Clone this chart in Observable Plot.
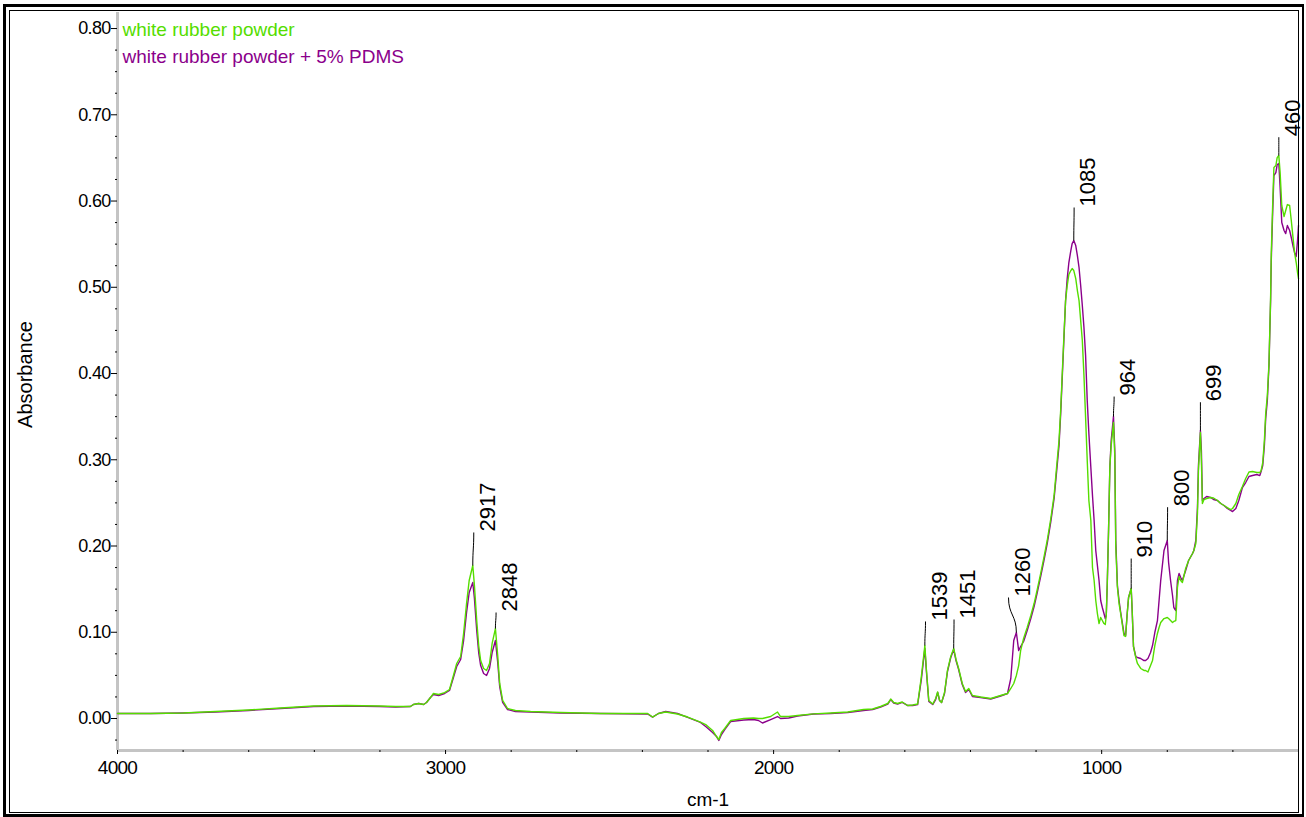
<!DOCTYPE html>
<html>
<head>
<meta charset="utf-8">
<script src="https://cdn.jsdelivr.net/npm/d3@7"></script>
<script src="https://cdn.jsdelivr.net/npm/@observablehq/plot@0.6"></script>
<style>
  html, body { margin: 0; padding: 0; background: #fff; overflow: hidden; }
  #chart { position: relative; width: 1306px; height: 817px; overflow: hidden; }
  #chart svg { position: absolute; left: 0; top: 0; }
  .frame-outer { position: absolute; left: 3px; top: 4px; width: 1301px; height: 813px; box-sizing: border-box;
                 border: 3px solid #000; border-right-width: 2px; pointer-events: none; }
  .frame-inner { position: absolute; left: 9px; top: 10px; width: 1290px; height: 803px; box-sizing: border-box;
                 border: 1px solid #000; pointer-events: none; }
  g[aria-label="y-axis tick label"], g[aria-label="x-axis tick label"] { letter-spacing: -0.7px; }
  g[aria-label="peak label"] { letter-spacing: -0.6px; }
</style>
</head>
<body>
<div id="chart">
  <div class="frame-outer"></div>
  <div class="frame-inner"></div>
</div>
<script>
// FTIR absorbance spectra, wavenumber in cm-1 (descending)
const wavenumber = [
  4000, 3899, 3799, 3701, 3601, 3503, 3402, 3302, 3201, 3152, 3107, 3098, 3082, 3067, 3058, 3046, 3037, 3021, 3003, 2988,
  2976, 2966, 2954, 2945, 2936, 2928, 2917, 2912, 2905, 2899, 2893, 2884, 2875, 2866, 2858, 2848, 2841, 2835, 2826, 2811,
  2787, 2741, 2649, 2527, 2384, 2369, 2351, 2329, 2293, 2262, 2223, 2207, 2186, 2174, 2167, 2159, 2149, 2131, 2091, 2061,
  2046, 2034, 2009, 1988, 1979, 1954, 1927, 1878, 1826, 1774, 1726, 1698, 1674, 1652, 1643, 1634, 1622, 1608, 1592, 1576,
  1561, 1550, 1539, 1534, 1527, 1515, 1506, 1500, 1494, 1488, 1479, 1470, 1460, 1451, 1444, 1436, 1425, 1415, 1405, 1394,
  1369, 1338, 1308, 1287, 1277, 1268, 1260, 1253, 1247, 1238, 1227, 1216, 1206, 1197, 1186, 1176, 1166, 1155, 1145, 1137,
  1130, 1125, 1120, 1115, 1110, 1105, 1100, 1094, 1090, 1085, 1079, 1074, 1069, 1064, 1059, 1054, 1049, 1044, 1039, 1033,
  1028, 1023, 1018, 1013, 1008, 1003, 998, 993, 989, 986, 983, 979, 975, 971, 964, 960, 957, 952, 947, 942,
  932, 927, 922, 918, 910, 907, 903, 896, 891, 881, 871, 866, 859, 851, 845, 838, 830, 825, 820, 815,
  810, 800, 796, 790, 784, 780, 774, 769, 764, 759, 754, 744, 735, 723, 719, 713, 708, 705, 699, 696,
  693, 688, 680, 668, 659, 647, 637, 627, 617, 607, 601, 591, 582, 571, 561, 551, 540, 527, 518, 514,
  509, 504, 500, 495, 490, 485, 483, 479, 475, 469, 465, 460, 456, 451, 444, 439, 434, 427, 422, 417,
  412, 407, 403, 400
];

// white rubber powder
const whiteRubber = [
  0.0058, 0.0058, 0.0064, 0.0081, 0.0099, 0.0122, 0.0145, 0.0151, 0.0145, 0.0139, 0.0139, 0.0162, 0.0174, 0.0162, 0.0186, 0.0243, 0.0290, 0.0278, 0.0301, 0.0336,
  0.0499, 0.0638, 0.0719, 0.0986, 0.1333, 0.1600, 0.1774, 0.1542, 0.1136, 0.0846, 0.0672, 0.0580, 0.0557, 0.0638, 0.0870, 0.1043, 0.0730, 0.0406, 0.0209, 0.0116,
  0.0093, 0.0081, 0.0070, 0.0058, 0.0058, 0.0017, 0.0058, 0.0075, 0.0052, 0.0017, -0.0041, -0.0070, -0.0139, -0.0209, -0.0243, -0.0162, -0.0116, -0.0023, 0.0000, 0.0006,
  0.0000, 0.0000, 0.0023, 0.0075, 0.0023, 0.0023, 0.0035, 0.0054, 0.0064, 0.0075, 0.0104, 0.0110, 0.0139, 0.0174, 0.0226, 0.0186, 0.0174, 0.0191, 0.0151, 0.0157,
  0.0168, 0.0475, 0.0846, 0.0557, 0.0209, 0.0168, 0.0232, 0.0307, 0.0209, 0.0186, 0.0301, 0.0557, 0.0719, 0.0812, 0.0684, 0.0580, 0.0406, 0.0313, 0.0348, 0.0267,
  0.0249, 0.0232, 0.0267, 0.0290, 0.0348, 0.0406, 0.0499, 0.0614, 0.0788, 0.0928, 0.1055, 0.1194, 0.1333, 0.1484, 0.1681, 0.1867, 0.2064, 0.2319, 0.2586, 0.2933,
  0.3223, 0.3571, 0.4012, 0.4441, 0.4846, 0.5020, 0.5148, 0.5194, 0.5217, 0.5194, 0.5101, 0.4962, 0.4846, 0.4614, 0.4383, 0.3977, 0.3490, 0.2991, 0.2528, 0.2296,
  0.1751, 0.1600, 0.1368, 0.1217, 0.1101, 0.1171, 0.1136, 0.1101, 0.1090, 0.1194, 0.1565, 0.2180, 0.2922, 0.3165, 0.3432, 0.3049, 0.1994, 0.1519, 0.1333, 0.1217,
  0.0962, 0.0951, 0.1217, 0.1403, 0.1507, 0.1252, 0.0835, 0.0707, 0.0638, 0.0580, 0.0557, 0.0557, 0.0539, 0.0614, 0.0672, 0.0846, 0.0986, 0.1055, 0.1113, 0.1136,
  0.1159, 0.1171, 0.1159, 0.1136, 0.1113, 0.1125, 0.1136, 0.1519, 0.1646, 0.1600, 0.1577, 0.1739, 0.1832, 0.1913, 0.1948, 0.2029, 0.2377, 0.2875, 0.3316, 0.2991,
  0.2493, 0.2539, 0.2551, 0.2562, 0.2557, 0.2528, 0.2493, 0.2470, 0.2446, 0.2423, 0.2435, 0.2493, 0.2597, 0.2690, 0.2783, 0.2858, 0.2864, 0.2852, 0.2852, 0.2875,
  0.2968, 0.3223, 0.3536, 0.3745, 0.4116, 0.4881, 0.5391, 0.5925, 0.6388, 0.6412, 0.6504, 0.6528, 0.6330, 0.5948, 0.5820, 0.5890, 0.5959, 0.5948, 0.5774, 0.5588,
  0.5403, 0.5287, 0.5171, 0.5101
];

// white rubber powder + 5% PDMS
const withPDMS = [
  0.0058, 0.0058, 0.0064, 0.0075, 0.0093, 0.0116, 0.0139, 0.0145, 0.0139, 0.0133, 0.0139, 0.0162, 0.0174, 0.0162, 0.0186, 0.0243, 0.0278, 0.0267, 0.0290, 0.0325,
  0.0475, 0.0603, 0.0684, 0.0904, 0.1229, 0.1461, 0.1577, 0.1391, 0.1020, 0.0765, 0.0614, 0.0522, 0.0499, 0.0580, 0.0765, 0.0904, 0.0649, 0.0371, 0.0186, 0.0104,
  0.0081, 0.0075, 0.0064, 0.0058, 0.0052, 0.0017, 0.0058, 0.0081, 0.0058, 0.0012, -0.0046, -0.0093, -0.0162, -0.0209, -0.0255, -0.0186, -0.0128, -0.0035, -0.0017, -0.0012,
  -0.0023, -0.0052, -0.0012, 0.0023, 0.0000, 0.0006, 0.0029, 0.0052, 0.0058, 0.0070, 0.0093, 0.0104, 0.0133, 0.0168, 0.0220, 0.0180, 0.0168, 0.0186, 0.0151, 0.0151,
  0.0162, 0.0441, 0.0812, 0.0533, 0.0197, 0.0162, 0.0220, 0.0301, 0.0209, 0.0186, 0.0290, 0.0545, 0.0707, 0.0800, 0.0672, 0.0568, 0.0394, 0.0301, 0.0336, 0.0255,
  0.0243, 0.0226, 0.0261, 0.0290, 0.0464, 0.0904, 0.0997, 0.0788, 0.0835, 0.0893, 0.1020, 0.1159, 0.1299, 0.1449, 0.1646, 0.1832, 0.2029, 0.2284, 0.2551, 0.2875,
  0.3165, 0.3525, 0.3965, 0.4406, 0.4846, 0.5101, 0.5287, 0.5426, 0.5507, 0.5542, 0.5484, 0.5368, 0.5229, 0.5020, 0.4788, 0.4533, 0.4209, 0.3687, 0.3304, 0.2910,
  0.2586, 0.2296, 0.1948, 0.1774, 0.1600, 0.1368, 0.1287, 0.1217, 0.1159, 0.1194, 0.1542, 0.2180, 0.2922, 0.3223, 0.3501, 0.3107, 0.2064, 0.1542, 0.1368, 0.1229,
  0.0986, 0.0962, 0.1229, 0.1403, 0.1507, 0.1252, 0.0835, 0.0719, 0.0707, 0.0696, 0.0672, 0.0672, 0.0696, 0.0765, 0.0846, 0.0997, 0.1136, 0.1368, 0.1600, 0.1774,
  0.1948, 0.2064, 0.1809, 0.1600, 0.1426, 0.1287, 0.1252, 0.1600, 0.1681, 0.1635, 0.1600, 0.1716, 0.1832, 0.1913, 0.1948, 0.2064, 0.2446, 0.2933, 0.3339, 0.3107,
  0.2528, 0.2551, 0.2574, 0.2562, 0.2539, 0.2528, 0.2493, 0.2470, 0.2435, 0.2412, 0.2400, 0.2435, 0.2528, 0.2678, 0.2736, 0.2806, 0.2817, 0.2829, 0.2817, 0.2864,
  0.2933, 0.3165, 0.3478, 0.3687, 0.4093, 0.4846, 0.5310, 0.5832, 0.6296, 0.6330, 0.6423, 0.6435, 0.6157, 0.5751, 0.5658, 0.5623, 0.5716, 0.5658, 0.5577, 0.5484,
  0.5403, 0.5357, 0.5542, 0.5716
];

// labelled bands: peak wavenumber and where each label's leader ends
const peakWavenumber = [2917, 2848, 1539, 1451, 1260, 1085, 964, 910, 800, 699, 460];
const labelWavenumber = [2914, 2846, 1537, 1450, 1284, 1084, 962, 910, 799, 699, 460];
const labelAbsorbance = [0.2157, 0.1229, 0.1125, 0.1148, 0.1403, 0.5925, 0.3733, 0.1855, 0.2450, 0.3667, 0.6740];

const seriesNames = ["white rubber powder", "white rubber powder + 5% PDMS"];
const seriesColors = ["#55dd00", "#8b008b"];

const yMajorTicks = [0, 0.1, 0.2, 0.3, 0.4, 0.5, 0.6, 0.7, 0.8];
const yMinorTicks = d3.range(-1, 32).map(i => i * 0.025).filter(v => Math.abs(v * 10 - Math.round(v * 10)) > 1e-6);
const xMajorTicks = [4000, 3000, 2000, 1000];
const xMinorTicks = d3.range(3800, 500, -200).filter(v => v % 1000 !== 0);

const yDomain = [-0.0371, 0.8186];
const xDomain = [4000, 400];

const green = wavenumber.map((w, i) => ({w, a: whiteRubber[i]}));
const purple = wavenumber.map((w, i) => ({w, a: withPDMS[i]}));

const peaks = peakWavenumber.map((w, i) => {
  const j = wavenumber.indexOf(w);
  return {
    peak: w,
    top: Math.max(whiteRubber[j], withPDMS[j]),
    lx: labelWavenumber[i],
    ly: labelAbsorbance[i],
    text: String(w)
  };
});

const font = "'Liberation Sans', Arial, Helvetica, sans-serif";

const chart = Plot.plot({
  width: 1306,
  height: 817,
  marginTop: 12,
  marginRight: 8,
  marginBottom: 67,
  marginLeft: 117,
  style: {fontFamily: font, fontSize: "18px", color: "#000", background: "transparent", overflow: "visible"},
  x: {domain: xDomain},
  y: {domain: yDomain},
  marks: [
    Plot.ruleX([xDomain[0]], {stroke: "#c4c4c4", strokeWidth: 3}),
    Plot.ruleY([yDomain[0]], {stroke: "#c4c4c4", strokeWidth: 3}),
    Plot.axisY({ticks: yMajorTicks, tickSize: 6, tickPadding: 1, tickFormat: d3.format(".2f"), label: null, fontSize: 18}),
    Plot.axisY({ticks: yMinorTicks, tickSize: 2, tickFormat: () => "", label: null}),
    Plot.axisX({ticks: xMajorTicks, tickSize: 4, tickPadding: 6, tickFormat: d => String(d), label: null, fontSize: 19}),
    Plot.axisX({ticks: xMinorTicks, tickSize: 2, tickFormat: () => "", label: null}),
    Plot.line(purple, {x: "w", y: "a", stroke: seriesColors[1], strokeWidth: 1.4}),
    Plot.line(green, {x: "w", y: "a", stroke: seriesColors[0], strokeWidth: 1.4}),
    Plot.link(peaks, {x1: "peak", y1: "top", x2: "lx", y2: "ly", curve: "bump-y", stroke: "#000", strokeWidth: 1}),
    Plot.text(peaks, {x: "lx", y: "ly", text: "text", rotate: -90, textAnchor: "start", lineAnchor: "middle",
                      dx: 14, dy: -1, fontSize: 22, fill: "#000", ariaLabel: "peak label"}),
    ...seriesNames.map((name, i) => Plot.text([name], {
      frameAnchor: "top-left", text: d => d, textAnchor: "start", lineAnchor: "middle",
      dx: 5, dy: 17 + 27 * i, fontSize: 19, fill: seriesColors[i]
    })),
    Plot.text(["Absorbance"], {frameAnchor: "left", text: d => d, rotate: -90, textAnchor: "middle", lineAnchor: "middle",
                               dx: -92, dy: -7, fontSize: 20, fill: "#000"}),
    Plot.text(["cm-1"], {frameAnchor: "bottom", text: d => d, textAnchor: "middle", lineAnchor: "bottom",
                         dy: 55, fontSize: 19, fill: "#000"})
  ]
});

document.getElementById("chart").prepend(chart);
</script>
</body>
</html>
